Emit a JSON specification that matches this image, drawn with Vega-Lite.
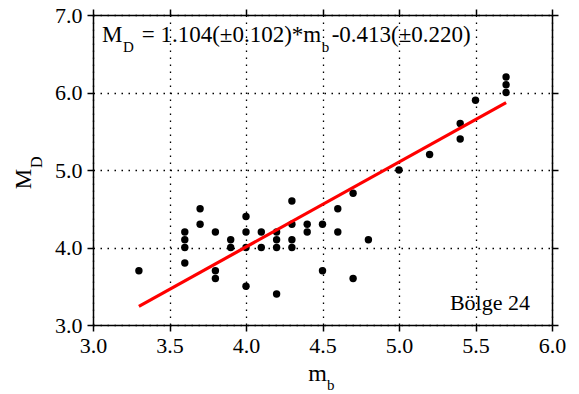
{
  "$schema": "https://vega.github.io/schema/vega-lite/v6.json",
  "width": 459,
  "height": 310,
  "autosize": "none",
  "padding": {"left": 93, "top": 15, "right": 27, "bottom": 69},
  "background": "white",
  "config": {
    "font": "Times New Roman, Liberation Serif, serif",
    "view": {"stroke": null},
    "text": {"font": "Times New Roman, Liberation Serif, serif"},
    "axis": {
      "domainColor": "black",
      "domainWidth": 1.5,
      "tickColor": "black",
      "tickWidth": 1.5,
      "tickSize": 6,
      "labelColor": "black",
      "labelFont": "Times New Roman, Liberation Serif, serif",
      "labelFontSize": 22,
      "titleFont": "Times New Roman, Liberation Serif, serif",
      "titleFontWeight": "normal",
      "titleColor": "black",
      "gridColor": "black",
      "gridDash": [1.5, 5.5],
      "gridWidth": 1.3,
      "gridOpacity": 1
    }
  },
  "datasets": {
    "points": [
      {"mb": 3.3, "MD": 3.7},
      {"mb": 3.6, "MD": 4.2}, {"mb": 3.6, "MD": 4.1}, {"mb": 3.6, "MD": 4.0}, {"mb": 3.6, "MD": 3.8},
      {"mb": 3.7, "MD": 4.5}, {"mb": 3.7, "MD": 4.3},
      {"mb": 3.8, "MD": 4.2}, {"mb": 3.8, "MD": 3.7}, {"mb": 3.8, "MD": 3.6},
      {"mb": 3.9, "MD": 4.1}, {"mb": 3.9, "MD": 4.0},
      {"mb": 4.0, "MD": 4.4}, {"mb": 4.0, "MD": 4.2}, {"mb": 4.0, "MD": 4.0}, {"mb": 4.0, "MD": 3.5},
      {"mb": 4.1, "MD": 4.2}, {"mb": 4.1, "MD": 4.0},
      {"mb": 4.2, "MD": 4.2}, {"mb": 4.2, "MD": 4.1}, {"mb": 4.2, "MD": 4.0}, {"mb": 4.2, "MD": 3.4},
      {"mb": 4.3, "MD": 4.6}, {"mb": 4.3, "MD": 4.3}, {"mb": 4.3, "MD": 4.1}, {"mb": 4.3, "MD": 4.0},
      {"mb": 4.4, "MD": 4.3}, {"mb": 4.4, "MD": 4.2},
      {"mb": 4.5, "MD": 4.3}, {"mb": 4.5, "MD": 3.7},
      {"mb": 4.6, "MD": 4.5}, {"mb": 4.6, "MD": 4.2},
      {"mb": 4.7, "MD": 4.7}, {"mb": 4.7, "MD": 3.6},
      {"mb": 4.8, "MD": 4.1},
      {"mb": 5.0, "MD": 5.0},
      {"mb": 5.2, "MD": 5.2},
      {"mb": 5.4, "MD": 5.6}, {"mb": 5.4, "MD": 5.4},
      {"mb": 5.5, "MD": 5.9},
      {"mb": 5.7, "MD": 6.2}, {"mb": 5.7, "MD": 6.1}, {"mb": 5.7, "MD": 6.0}
    ],
    "fit": [
      {"mb": 3.3, "MD": 3.24},
      {"mb": 5.7, "MD": 5.87}
    ],
    "eqMain": [
      {"mb": 3.059, "MD": 6.652, "t": "M"},
      {"mb": 3.318, "MD": 6.652, "t": "= 1.104(±0.102)*m"},
      {"mb": 4.56, "MD": 6.652, "t": "-0.413(±0.220)"}
    ],
    "eqSub": [
      {"mb": 3.196, "MD": 6.652, "t": "D"},
      {"mb": 4.495, "MD": 6.652, "t": "b"}
    ],
    "wave": [
      {"mb": 5.856, "MD": 3.194, "t": "Bölge 24"}
    ],
    "xSub": [
      {"mb": 4.5, "MD": 3.0, "t": "b"}
    ],
    "ySub": [
      {"mb": 3.0, "MD": 5.0, "t": "D"}
    ]
  },
  "resolve": {"axis": {"x": "independent", "y": "independent"}},
  "layer": [
    {
      "data": {"name": "points"},
      "mark": {"type": "point", "filled": true, "shape": "circle", "color": "black", "size": 55, "opacity": 1},
      "encoding": {
        "x": {
          "field": "mb", "type": "quantitative",
          "scale": {"domain": [3, 6], "nice": false, "zero": false},
          "axis": {
            "orient": "bottom",
            "values": [3.0, 3.5, 4.0, 4.5, 5.0, 5.5, 6.0],
            "format": ".1f",
            "grid": true,
            "labelPadding": 4,
            "labelFlush": false,
            "title": "m",
            "titleFontSize": 24,
            "titleX": 224,
            "titleY": 55,
            "titleAlign": "center",
            "titleBaseline": "alphabetic"
          }
        },
        "y": {
          "field": "MD", "type": "quantitative",
          "scale": {"domain": [3, 7], "nice": false, "zero": false},
          "axis": {
            "orient": "left",
            "values": [3, 4, 5, 6, 7],
            "format": ".1f",
            "grid": true,
            "labelPadding": 5,
            "labelFlush": false,
            "title": "M",
            "titleFontSize": 23,
            "titleAngle": 270,
            "titleX": -63,
            "titleY": 163.5,
            "titleAlign": "center",
            "titleBaseline": "alphabetic"
          }
        }
      }
    },
    {
      "data": {"name": "fit"},
      "mark": {"type": "line", "color": "#ff0000", "strokeWidth": 3.2},
      "encoding": {
        "x": {
          "field": "mb", "type": "quantitative",
          "axis": {"orient": "top", "values": [3.0, 3.5, 4.0, 4.5, 5.0, 5.5, 6.0], "labels": false, "grid": false, "title": null}
        },
        "y": {
          "field": "MD", "type": "quantitative",
          "axis": {"orient": "right", "values": [3, 4, 5, 6, 7], "labels": false, "grid": false, "title": null}
        }
      }
    },
    {
      "data": {"name": "eqMain"},
      "mark": {"type": "text", "align": "left", "baseline": "alphabetic", "fontSize": 23, "color": "black"},
      "encoding": {
        "x": {"field": "mb", "type": "quantitative", "axis": null},
        "y": {"field": "MD", "type": "quantitative", "axis": null},
        "text": {"field": "t"}
      }
    },
    {
      "data": {"name": "eqSub"},
      "mark": {"type": "text", "align": "left", "baseline": "alphabetic", "fontSize": 15, "dy": 10, "color": "black"},
      "encoding": {
        "x": {"field": "mb", "type": "quantitative", "axis": null},
        "y": {"field": "MD", "type": "quantitative", "axis": null},
        "text": {"field": "t"}
      }
    },
    {
      "data": {"name": "wave"},
      "mark": {"type": "text", "align": "right", "baseline": "alphabetic", "fontSize": 22, "color": "black"},
      "encoding": {
        "x": {"field": "mb", "type": "quantitative", "axis": null},
        "y": {"field": "MD", "type": "quantitative", "axis": null},
        "text": {"field": "t"}
      }
    },
    {
      "data": {"name": "xSub"},
      "mark": {"type": "text", "align": "left", "baseline": "alphabetic", "fontSize": 15, "dx": 4.5, "dy": 65, "color": "black"},
      "encoding": {
        "x": {"field": "mb", "type": "quantitative", "axis": null},
        "y": {"field": "MD", "type": "quantitative", "axis": null},
        "text": {"field": "t"}
      }
    },
    {
      "data": {"name": "ySub"},
      "mark": {"type": "text", "align": "left", "baseline": "alphabetic", "fontSize": 16, "angle": 270, "dx": 2, "dy": -51, "color": "black"},
      "encoding": {
        "x": {"field": "mb", "type": "quantitative", "axis": null},
        "y": {"field": "MD", "type": "quantitative", "axis": null},
        "text": {"field": "t"}
      }
    }
  ]
}
